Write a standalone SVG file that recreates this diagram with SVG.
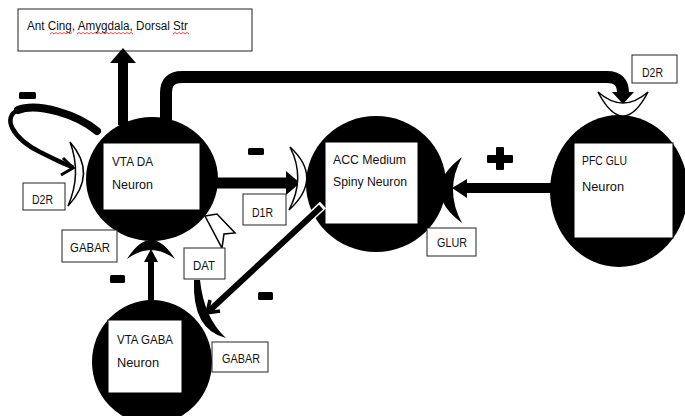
<svg xmlns="http://www.w3.org/2000/svg" width="685" height="416" viewBox="0 0 685 416">
<style>
text{font-family:"Liberation Sans",Arial,sans-serif;font-size:12.5px;fill:#111}
.lbl{fill:#fff;stroke:#222;stroke-width:1}
.cell{fill:#000}
.inner{fill:#fff;stroke:#000;stroke-width:1}
.rw{fill:#fff;stroke:#000;stroke-width:1.5}
.rb{fill:#000}
.sign{fill:#000}
.sq{fill:none;stroke:#d22;stroke-width:0.8}
.ln{fill:none;stroke:#000}
.head{fill:#000}
</style>
<rect width="685" height="416" fill="#fff"/>

<g id="target">
<rect class="lbl" x="18" y="9" width="234" height="42"/>
<text x="27" y="30" textLength="161" lengthAdjust="spacingAndGlyphs">Ant Cing, Amygdala, Dorsal Str</text>
<path class="sq" d="M50 34 l2 -1.5 2 1.5 2 -1.5 2 1.5 2 -1.5 2 1.5 2 -1.5 2 1.5 2 -1.5 2 1.5 2 -1.5"/>
<path class="sq" d="M77 34 l2 -1.5 2 1.5 2 -1.5 2 1.5 2 -1.5 2 1.5 2 -1.5 2 1.5 2 -1.5 2 1.5 2 -1.5 2 1.5 2 -1.5 2 1.5 2 -1.5 2 1.5 2 -1.5 2 1.5 2 -1.5 2 1.5 2 -1.5 2 1.5 2 -1.5 2 1.5 2 -1.5 2 1.5 2 -1.5 2 1.5"/>
<path class="sq" d="M173 34 l2 -1.5 2 1.5 2 -1.5 2 1.5 2 -1.5 2 1.5 2 -1.5 2 1.5"/>
</g>

<g id="vta-da">
<ellipse class="cell" cx="152" cy="179" rx="66" ry="62"/>
<rect class="inner" x="103" y="143" width="97" height="67"/>
<text x="112" y="166" textLength="41" lengthAdjust="spacingAndGlyphs">VTA DA</text>
<text x="112" y="189" textLength="41" lengthAdjust="spacingAndGlyphs">Neuron</text>
</g>

<g id="acc">
<ellipse class="cell" cx="376" cy="184" rx="70" ry="68"/>
<rect class="inner" x="325" y="142" width="93" height="82"/>
<text x="333" y="164" textLength="73" lengthAdjust="spacingAndGlyphs">ACC Medium</text>
<text x="333" y="186" textLength="74" lengthAdjust="spacingAndGlyphs">Spiny Neuron</text>
</g>

<g id="pfc">
<ellipse class="cell" cx="619" cy="191" rx="69" ry="76"/>
<rect class="inner" x="574" y="143" width="99" height="95"/>
<text x="582" y="165" textLength="45" lengthAdjust="spacingAndGlyphs">PFC GLU</text>
<text x="582" y="191" textLength="42" lengthAdjust="spacingAndGlyphs">Neuron</text>
</g>

<g id="vta-gaba">
<ellipse class="cell" cx="152" cy="362" rx="60" ry="62"/>
<rect class="inner" x="108" y="320" width="74" height="73"/>
<text x="117" y="344" textLength="56" lengthAdjust="spacingAndGlyphs">VTA GABA</text>
<text x="117" y="367" textLength="42" lengthAdjust="spacingAndGlyphs">Neuron</text>
</g>

<g id="connectors">
<path class="ln" d="M123 125 V62" stroke-width="10"/>
<polygon class="head" points="110,63 136,63 123,48"/>
<path class="ln" d="M166 125 V93 Q166 77 182 77 H607 Q623 77 623 93 V94" stroke-width="12"/>
<polygon class="head" points="612,92 634,92 623,104"/>
<path class="ln" d="M97 131 C78 115 38 102 18 110" stroke-width="8" stroke-linecap="round"/>
<path class="ln" d="M18 110 C2 117 12 138 40 152 S65 164 72 167" stroke-width="4.5" stroke-linecap="round"/>
<polyline class="ln" points="63,158 73,168 61,175" stroke-width="3"/>
<path class="ln" d="M216 183 H288" stroke-width="11"/>
<polygon class="head" points="286,171 286,195 300,183"/>
<path class="ln" d="M552 188 H464" stroke-width="10"/>
<polygon class="head" points="467,179 467,198 452,188"/>
<path class="ln" d="M151 302 V261" stroke-width="6"/>
<polygon class="head" points="144,262 158,262 151,249"/>
<path d="M323 205 L306 221" stroke="#fff" stroke-width="9"/>
<path class="ln" d="M321 207 L209 311" stroke-width="6"/>
<polyline class="ln" points="210,300 207,313 220,311" stroke-width="3.5"/>
</g>

<g id="d2r-vta">
<path class="rw" d="M70 142 Q98 174 68 206 Q82 174 70 142 Z"/>
<rect class="lbl" x="23" y="183" width="42" height="27"/>
<text x="32" y="204" textLength="21" lengthAdjust="spacingAndGlyphs">D2R</text>
</g>

<g id="d1r">
<path class="rw" d="M290 147 Q324 178 289 210 Q306 178 290 147 Z"/>
<rect class="lbl" x="243" y="194" width="43" height="31"/>
<text x="252" y="217" textLength="21" lengthAdjust="spacingAndGlyphs">D1R</text>
</g>

<g id="glur">
<path class="rb" d="M462 157 Q418 190 462 223 Q444 190 462 157 Z"/>
<rect class="lbl" x="427" y="228" width="49" height="28"/>
<text x="437" y="247" textLength="30" lengthAdjust="spacingAndGlyphs">GLUR</text>
</g>

<g id="d2r-pfc">
<path class="rw" d="M598 92 Q623 140 648 92 Q623 114 598 92 Z"/>
<rect class="lbl" x="632" y="55" width="45" height="28"/>
<text x="642" y="77" textLength="21" lengthAdjust="spacingAndGlyphs">D2R</text>
</g>

<g id="gabar-vta">
<path class="rb" d="M127 259 Q151 221 175 259 Q151 241 127 259 Z"/>
<rect class="lbl" x="62" y="230" width="55" height="32"/>
<text x="70" y="252" textLength="40" lengthAdjust="spacingAndGlyphs">GABAR</text>
</g>

<g id="gabar-gaba">
<path class="rb" d="M194 280 Q192 330 226 338 Q204 318 200 280 Z"/>
<rect class="lbl" x="212" y="342" width="56" height="30"/>
<text x="222" y="363" textLength="38" lengthAdjust="spacingAndGlyphs">GABAR</text>
</g>

<g id="dat">
<polygon class="rw" points="205,216 217,214 235,233 224,234 222,248"/>
<rect class="lbl" x="184" y="248" width="41" height="31"/>
<text x="193" y="270" textLength="22" lengthAdjust="spacingAndGlyphs">DAT</text>
</g>

<g id="signs">
<rect class="sign" x="19" y="92" width="17" height="7" rx="1.5"/>
<rect class="sign" x="248" y="148" width="16" height="7" rx="1.5"/>
<rect class="sign" x="110" y="275" width="15" height="8" rx="1.5"/>
<rect class="sign" x="258" y="292" width="15" height="8" rx="1.5"/>
<rect class="sign" x="487" y="155" width="26" height="8" rx="1"/>
<rect class="sign" x="496" y="147" width="8" height="23" rx="1"/>
</g>
</svg>
